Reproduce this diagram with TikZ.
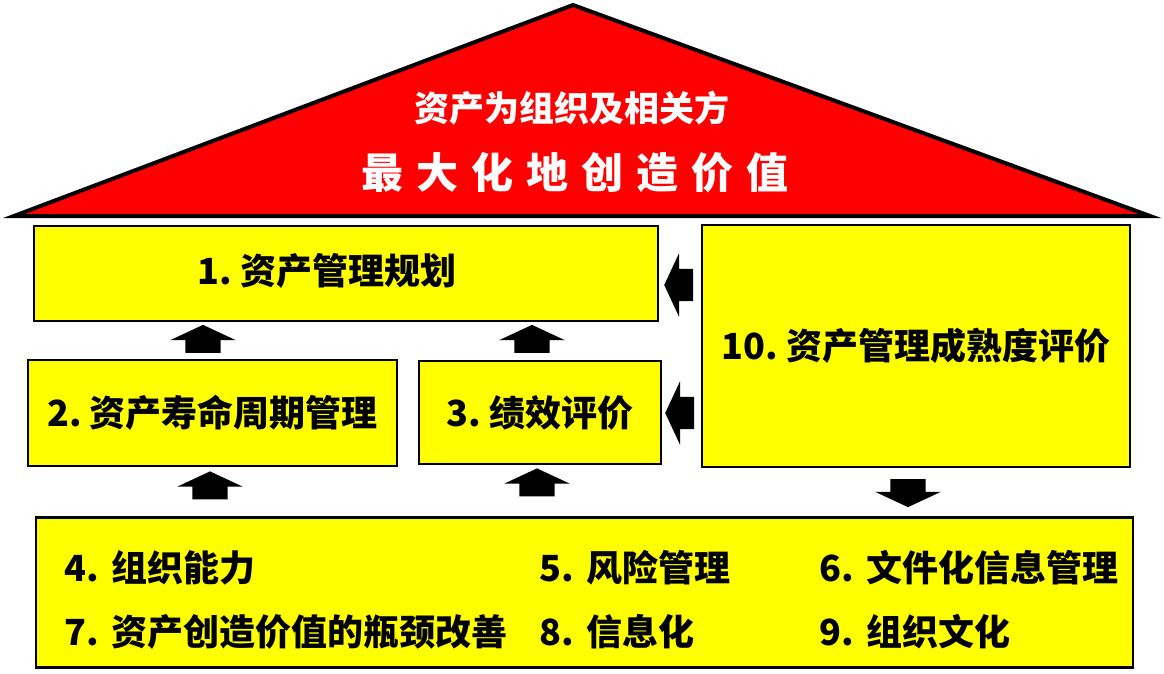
\documentclass[tikz,border=0pt]{standalone}
\usepackage{fontspec}
\setmainfont{Noto Sans CJK SC}
\usetikzlibrary{matrix,positioning,shapes.arrows}
\definecolor{boxyellow}{HTML}{FFFF00}
\definecolor{roofred}{HTML}{FF0000}
\newcommand\roofgap{\hspace{13pt}}

\begin{document}
\begin{tikzpicture}[
x=1pt,y=-1pt,
box/.style={
  draw,
  fill=boxyellow,
  line width=2.5pt,
  inner sep=0,
  font=\fontsize{36}{40}\selectfont\bfseries\frenchspacing
  },
boxtext/.style={
  font=\fontsize{36}{40}\selectfont\bfseries\frenchspacing
  },
rooftext/.style={
  text=white,
  inner sep=0
  },
blockarrow/.style={
  single arrow,
  fill=black,
  draw=none,
  minimum height=28pt,
  single arrow head extend=15pt,
  single arrow tip angle=130
  },
uparrow/.style={
  blockarrow,
  shape border rotate=90,
  inner xsep=17.5pt,
  inner ysep=0
  },
downarrow/.style={
  uparrow,
  shape border rotate=270
  },
leftarrow/.style={
  blockarrow,
  shape border rotate=180,
  inner xsep=0,
  inner ysep=16pt,
  minimum height=29pt,
  single arrow head extend=16pt
  },
support/.style={
  matrix of nodes,
  ampersand replacement=\&,
  nodes={
    boxtext,
    inner sep=0,
    anchor=west,
    align=left,
    text height=28pt,
    text depth=8pt
    },
  column 1/.style={nodes={text width=475pt}},
  column 2/.style={nodes={text width=280pt}},
  column 3/.style={nodes={text width=300pt}},
  row sep=28pt,
  inner sep=0
  }]
\useasboundingbox (0,0) rectangle (1164,673);

% roof
\draw[fill=roofred,line width=4pt] (14,216) -- (573,5) -- (1150,216) -- cycle;
\node[rooftext,font=\fontsize{35}{40}\selectfont\bfseries] (roofa) at (572,108) {资产为组织及相关方};
\node[rooftext,font=\fontsize{42}{48}\selectfont\bfseries] (roofb) at (575,173)
  {最\roofgap 大\roofgap 化\roofgap 地\roofgap 创\roofgap 造\roofgap 价\roofgap 值};

% boxes
\node[box,minimum width=624pt,minimum height=95pt,
  label={[boxtext,xshift=-19pt,yshift=3pt]center:1. 资产管理规划}] (plan) at (346,273.5) {};
\node[box,minimum width=369pt,minimum height=106pt] (life) at (212.5,413) {2. 资产寿命周期管理};
\node[box,minimum width=242pt,minimum height=103pt] (perf) at (540,412.5) {3. 绩效评价};
\node[box,minimum width=428pt,minimum height=242pt] (mature) at (916,346) {10. 资产管理成熟度评价};
\node[box,minimum width=1097pt,minimum height=150pt] (base) at (584.5,592.5) {};

\matrix[support,anchor=west] (items) at ([xshift=30pt,yshift=-11pt]base.west)
{
  4. 组织能力 \& 5. 风险管理 \& 6. 文件化信息管理 \\
  7. 资产创造价值的瓶颈改善 \& 8. 信息化 \& 9. 组织文化 \\
};

% arrows
\node[uparrow] (lifeup) at (203,343) {};
\node[uparrow] (perfup) at (532,343) {};
\node[uparrow] (baseup1) at (210,489.5) {};
\node[uparrow] (baseup2) at (537,486.5) {};
\node[leftarrow] (toplan) at (682.5,285) {};
\node[leftarrow] (toperf) at (683.5,413) {};
\node[downarrow] (tobase) at (908,489) {};

\end{tikzpicture}
\end{document}
